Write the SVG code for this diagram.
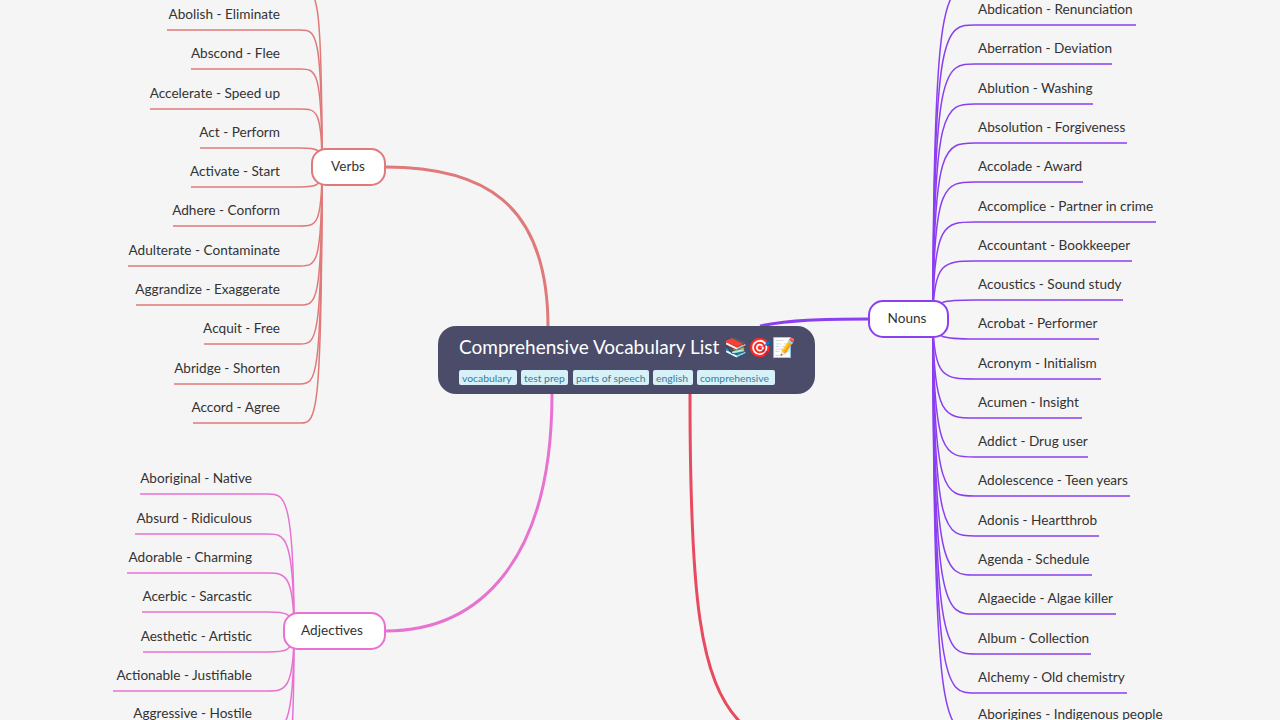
<svg xmlns="http://www.w3.org/2000/svg" width="1280" height="720" viewBox="0 0 1280 720">
<style>
text{font-family:Lato,"Noto Sans",sans-serif;fill:#333;font-size:13.6px}
.v{fill:none;stroke:#e07a7a;stroke-width:1.5}
.n{fill:none;stroke:#8b3ff0;stroke-width:1.5}
.a{fill:none;stroke:#e872d2;stroke-width:1.5}
.r{text-anchor:end}
.tag{fill:#d6f1f8}
.tt{font-size:10.4px;fill:#3a7a95}
</style>
<rect width="1280" height="720" fill="#f5f5f5"/>
<g id="connectors">
<path d="M385,167 C480,167 548,200 548,327" fill="none" stroke="#e07a7a" stroke-width="3"/>
<path d="M760,326 C790,320 820,319 869,319" fill="none" stroke="#8b3ff0" stroke-width="3"/>
<path d="M552,394 C552,560 480,631 385,631" fill="none" stroke="#e872d2" stroke-width="3"/>
<path d="M690,394 C690,600 700,680 740,722" fill="none" stroke="#e84a5f" stroke-width="3"/>
<g class="v">
<path d="M322,166 C322,-20 316,-9 300,-9 L160,-9"/>
<path d="M322,166 C322,30 316,30 300,30 L167,30"/>
<path d="M322,166 C322,69 316,69 300,69 L191,69"/>
<path d="M322,166 C322,109 316,109 300,109 L150,109"/>
<path d="M322,166 C322,148 316,148 300,148 L200,148"/>
<path d="M322,166 C322,187 316,187 300,187 L191,187"/>
<path d="M322,166 C322,226 316,226 300,226 L173,226"/>
<path d="M322,166 C322,266 316,266 300,266 L128,266"/>
<path d="M322,166 C322,305 316,305 300,305 L136,305"/>
<path d="M322,166 C322,344 316,344 300,344 L204,344"/>
<path d="M322,166 C322,384 316,384 300,384 L174,384"/>
<path d="M322,166 C322,423 316,423 300,423 L193,423"/>
</g>
<g class="n">
<path d="M933,319 C933,-10 945,-15 975,-15 L1140,-15"/>
<path d="M933,319 C933,25 945,25 975,25 L1136,25"/>
<path d="M933,319 C933,64 945,64 975,64 L1112,64"/>
<path d="M933,319 C933,104 945,104 975,104 L1093,104"/>
<path d="M933,319 C933,143 945,143 975,143 L1127,143"/>
<path d="M933,319 C933,182 945,182 975,182 L1083,182"/>
<path d="M933,319 C933,222 945,222 975,222 L1156,222"/>
<path d="M933,319 C933,261 945,261 975,261 L1132,261"/>
<path d="M933,319 C933,300 945,300 975,300 L1123,300"/>
<path d="M933,319 C933,339 945,339 975,339 L1099,339"/>
<path d="M933,319 C933,379 945,379 975,379 L1101,379"/>
<path d="M933,319 C933,418 945,418 975,418 L1082,418"/>
<path d="M933,319 C933,457 945,457 975,457 L1088,457"/>
<path d="M933,319 C933,496 945,496 975,496 L1130,496"/>
<path d="M933,319 C933,536 945,536 975,536 L1099,536"/>
<path d="M933,319 C933,575 945,575 975,575 L1092,575"/>
<path d="M933,319 C933,614 945,614 975,614 L1116,614"/>
<path d="M933,319 C933,654 945,654 975,654 L1091,654"/>
<path d="M933,319 C933,693 945,693 975,693 L1127,693"/>
<path d="M933,319 C933,732 945,732 975,732 L1167,732"/>
</g>
<g class="a">
<path d="M294,631 C294,494 284,494 268,494 L140,494"/>
<path d="M294,631 C294,534 284,534 268,534 L135,534"/>
<path d="M294,631 C294,573 284,573 268,573 L127,573"/>
<path d="M294,631 C294,612 284,612 268,612 L142,612"/>
<path d="M294,631 C294,652 284,652 268,652 L143,652"/>
<path d="M294,631 C294,691 284,691 268,691 L113,691"/>
<path d="M294,631 C294,730 284,730 268,730 L134,730"/>
<path d="M294,631 C294,760 290,760 280,760"/>
</g>
</g>
<g id="central">
<rect x="438" y="326" width="377" height="68" rx="18" fill="#4a4c6a"/>
<text x="459" y="354" style="font-size:19px;fill:#fff">Comprehensive Vocabulary List 📚🎯📝</text>
<rect class="tag" x="459" y="370" width="58" height="15" rx="2"/><text class="tt" x="462" y="382">vocabulary</text>
<rect class="tag" x="521" y="370" width="47" height="15" rx="2"/><text class="tt" x="524" y="382">test prep</text>
<rect class="tag" x="573" y="370" width="76" height="15" rx="2"/><text class="tt" x="576" y="382">parts of speech</text>
<rect class="tag" x="653" y="370" width="40" height="15" rx="2"/><text class="tt" x="656" y="382">english</text>
<rect class="tag" x="697" y="370" width="78" height="15" rx="2"/><text class="tt" x="700" y="382">comprehensive</text>
</g>
<g id="verbs">
<rect x="312" y="149" width="73" height="36" rx="14" fill="#fff" stroke="#e07a7a" stroke-width="2"/>
<text x="348" y="171" text-anchor="middle">Verbs</text>
<text class="r" x="280" y="19">Abolish - Eliminate</text>
<text class="r" x="280" y="58">Abscond - Flee</text>
<text class="r" x="280" y="98">Accelerate - Speed up</text>
<text class="r" x="280" y="137">Act - Perform</text>
<text class="r" x="280" y="176">Activate - Start</text>
<text class="r" x="280" y="215">Adhere - Conform</text>
<text class="r" x="280" y="255">Adulterate - Contaminate</text>
<text class="r" x="280" y="294">Aggrandize - Exaggerate</text>
<text class="r" x="280" y="333">Acquit - Free</text>
<text class="r" x="280" y="373">Abridge - Shorten</text>
<text class="r" x="280" y="412">Accord - Agree</text>
</g>
<g id="nouns">
<rect x="869" y="301" width="79" height="36" rx="14" fill="#fff" stroke="#8b3ff0" stroke-width="2"/>
<text x="907" y="323" text-anchor="middle">Nouns</text>
<text x="978" y="14">Abdication - Renunciation</text>
<text x="978" y="53">Aberration - Deviation</text>
<text x="978" y="93">Ablution - Washing</text>
<text x="978" y="132">Absolution - Forgiveness</text>
<text x="978" y="171">Accolade - Award</text>
<text x="978" y="211">Accomplice - Partner in crime</text>
<text x="978" y="250">Accountant - Bookkeeper</text>
<text x="978" y="289">Acoustics - Sound study</text>
<text x="978" y="328">Acrobat - Performer</text>
<text x="978" y="368">Acronym - Initialism</text>
<text x="978" y="407">Acumen - Insight</text>
<text x="978" y="446">Addict - Drug user</text>
<text x="978" y="485">Adolescence - Teen years</text>
<text x="978" y="525">Adonis - Heartthrob</text>
<text x="978" y="564">Agenda - Schedule</text>
<text x="978" y="603">Algaecide - Algae killer</text>
<text x="978" y="643">Album - Collection</text>
<text x="978" y="682">Alchemy - Old chemistry</text>
<text x="978" y="719">Aborigines - Indigenous people</text>
</g>
<g id="adjectives">
<rect x="284" y="613" width="101" height="36" rx="14" fill="#fff" stroke="#e872d2" stroke-width="2"/>
<text x="332" y="635" text-anchor="middle">Adjectives</text>
<text class="r" x="252" y="483">Aboriginal - Native</text>
<text class="r" x="252" y="523">Absurd - Ridiculous</text>
<text class="r" x="252" y="562">Adorable - Charming</text>
<text class="r" x="252" y="601">Acerbic - Sarcastic</text>
<text class="r" x="252" y="641">Aesthetic - Artistic</text>
<text class="r" x="252" y="680">Actionable - Justifiable</text>
<text class="r" x="252" y="718">Aggressive - Hostile</text>
</g>
</svg>
